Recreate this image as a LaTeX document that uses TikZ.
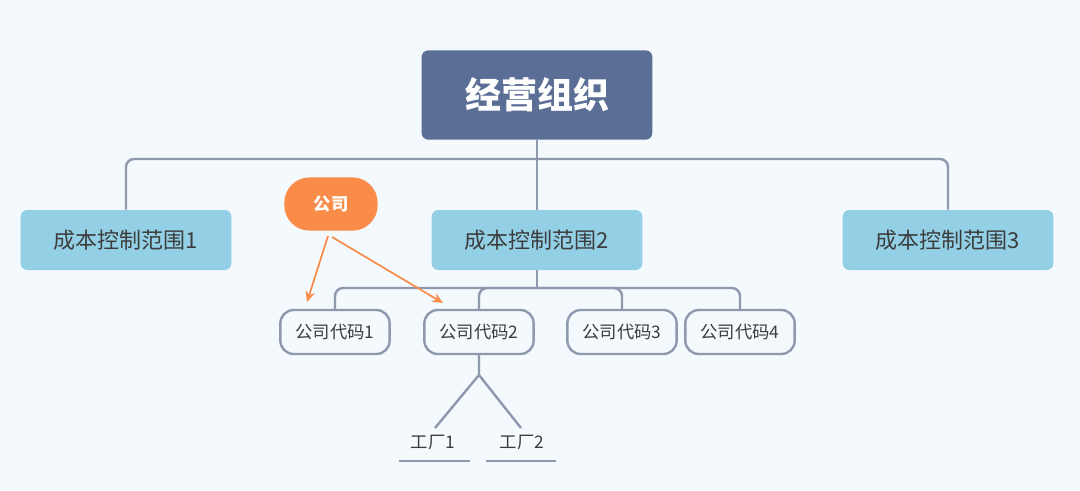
\documentclass[tikz,border=0pt]{standalone}
\usepackage{fontspec}
\setmainfont{Noto Sans CJK SC}
\usetikzlibrary{arrows.meta}
\definecolor{bg}{HTML}{F4F9FE}
\definecolor{rootfill}{HTML}{5A6E96}
\definecolor{rangefill}{HTML}{93D0E6}
\definecolor{linegray}{HTML}{8E99AE}
\definecolor{orangefill}{HTML}{F98C48}
\definecolor{txt}{HTML}{3C3C3C}
\tikzset{
  root/.style={fill=rootfill, rounded corners=5pt, minimum width=173pt, minimum height=67pt, text=white, font=\fontsize{27}{30}\selectfont\bfseries},
  ctrlarea/.style={fill=rangefill, rounded corners=5pt, minimum width=158pt, minimum height=45pt, text=txt, font=\fontsize{16.5}{19}\selectfont},
  code/.style={draw=linegray, line width=1.8pt, fill=bg, rounded corners=10pt, minimum width=82pt, minimum height=33pt, text=txt, font=\fontsize{13}{15}\selectfont},
  plant/.style={text=txt, font=\fontsize{13}{15}\selectfont},
  tag/.style={fill=orangefill, rounded corners=19pt, minimum width=70pt, minimum height=40pt, text=white, font=\fontsize{13}{15}\selectfont\bfseries},
  link/.style={linegray, line width=1.8pt, rounded corners=6pt},
  hint/.style={orangefill, line width=1.3pt, -{Stealth[length=8pt,width=7pt]}}
}
\begin{document}
\begin{tikzpicture}[x=0.75pt,y=-0.75pt]
  \fill[bg] (0,0) rectangle (1080,490);
  \useasboundingbox (0,0) rectangle (1080,490);

  \node[root] (org) at (537,95) {经营组织};
  \foreach \i/\x in {1/126,2/537,3/948}
    \node[ctrlarea] (r\i) at (\x,240) {成本控制范围\i};
  \node[tag] (co) at (331,204) {公司};
  \foreach \i/\x in {1/335,2/479,3/622,4/740}
    \node[code] (c\i) at (\x,332) {公司代码\i};
  \node[plant] (p1) at (433,442) {工厂1};
  \node[plant] (p2) at (522,442) {工厂2};

  % tree lines
  \draw[link] (org.south) -- (r2.north);
  \draw[link] (r1.north) |- (org.south |- 0,159) -| (r3.north);
  \draw[link] (r2.south) -- (r2.south |- 0,288);
  \draw[link] (c1.north) |- (c4.north |- 0,288) -- (c4.north);
  \draw[link] (c2.north) |- (r2.south |- 0,288);
  \draw[link] (c3.north) |- (r2.south |- 0,288);
  \coordinate (fork) at (c2.south |- 0,375);
  \draw[link, rounded corners=0pt] (c2.south) -- (fork) -- (435,428);
  \draw[link, rounded corners=0pt] (fork) -- (521,428);
  \draw[link] (399,461) -- (470,461);
  \draw[link] (486,461) -- (556,461);

  % company hints
  \draw[hint] (328,236) -- (307,302);
  \draw[hint] (332,237) -- (443,303);
\end{tikzpicture}
\end{document}
